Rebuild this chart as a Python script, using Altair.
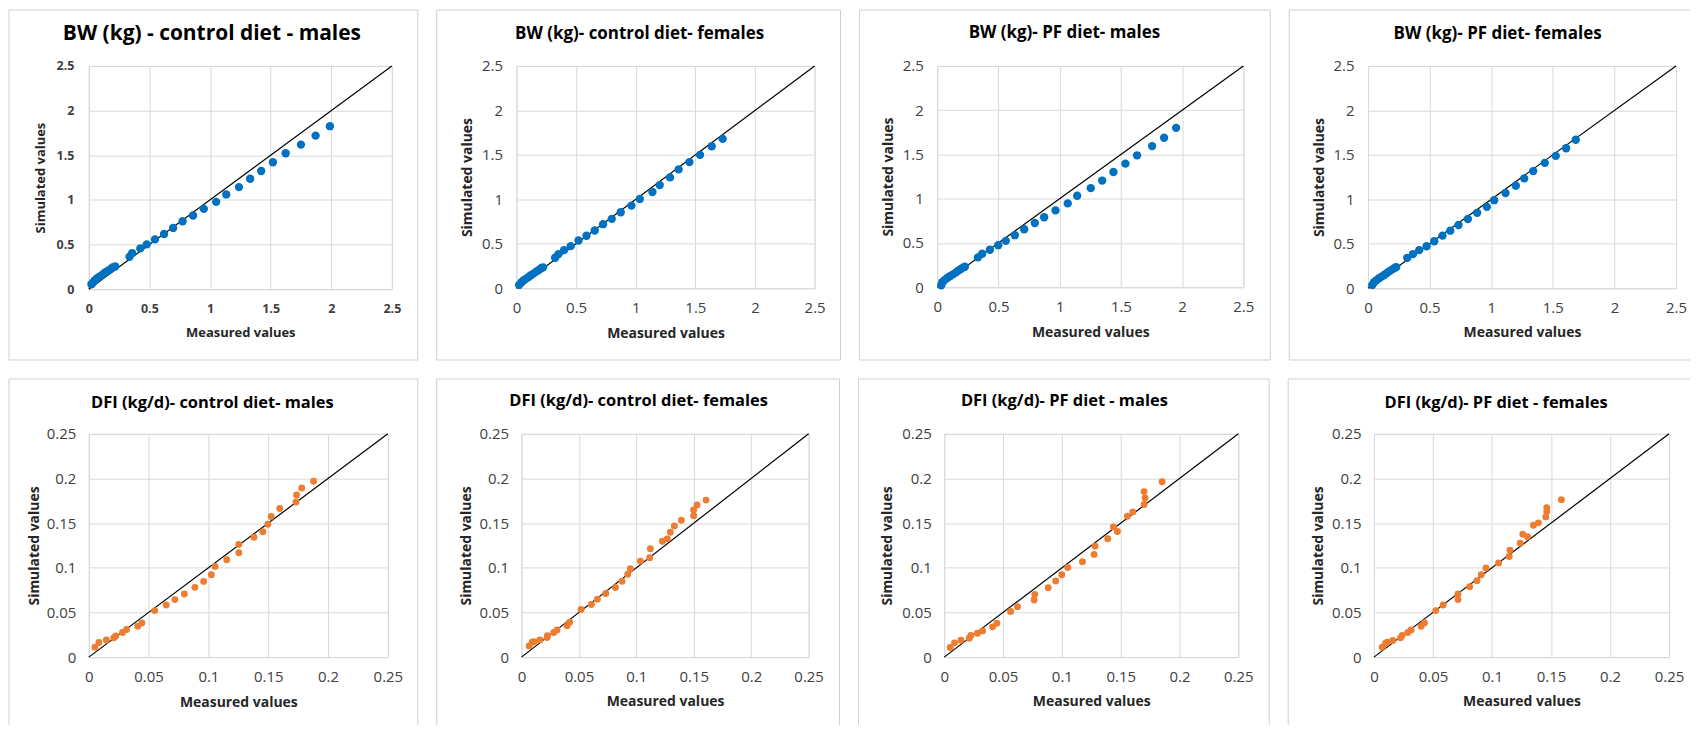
import altair as alt
import pandas as pd

# ---------------- data ----------------
BW_CM_MEAS = [0.022, 0.035, 0.051, 0.070, 0.089, 0.110, 0.132, 0.153, 0.175, 0.196, 0.218,
              0.336, 0.358, 0.425, 0.478, 0.546, 0.621, 0.696, 0.774, 0.860, 0.949, 1.051,
              1.134, 1.239, 1.331, 1.422, 1.519, 1.624, 1.750, 1.871, 1.989]
BW_CM_SIM = [0.056, 0.075, 0.101, 0.124, 0.142, 0.161, 0.184, 0.202, 0.221, 0.244, 0.255,
             0.364, 0.405, 0.457, 0.502, 0.558, 0.618, 0.686, 0.761, 0.825, 0.900, 0.978,
             1.061, 1.143, 1.237, 1.323, 1.421, 1.522, 1.619, 1.720, 1.825]

BW_CF_MEAS = [0.022, 0.042, 0.061, 0.081, 0.101, 0.120, 0.142, 0.165, 0.187, 0.209, 0.223,
              0.324, 0.352, 0.399, 0.455, 0.520, 0.587, 0.656, 0.726, 0.799, 0.874, 0.964,
              1.034, 1.140, 1.201, 1.288, 1.360, 1.450, 1.539, 1.637, 1.729]
BW_CF_SIM = [0.037, 0.067, 0.090, 0.108, 0.127, 0.146, 0.164, 0.187, 0.205, 0.228, 0.235,
             0.343, 0.384, 0.429, 0.474, 0.537, 0.590, 0.649, 0.720, 0.780, 0.854, 0.929,
             1.004, 1.082, 1.160, 1.246, 1.336, 1.418, 1.500, 1.597, 1.679]

BW_PM_MEAS = [0.033, 0.041, 0.060, 0.082, 0.103, 0.125, 0.150, 0.171, 0.193, 0.215, 0.226,
              0.332, 0.367, 0.430, 0.498, 0.560, 0.634, 0.710, 0.797, 0.873, 0.966, 1.066,
              1.143, 1.254, 1.347, 1.439, 1.537, 1.632, 1.755, 1.853, 1.951]
BW_PM_SIM = [0.022, 0.056, 0.082, 0.105, 0.124, 0.142, 0.165, 0.187, 0.206, 0.225, 0.232,
             0.337, 0.378, 0.423, 0.475, 0.524, 0.588, 0.655, 0.726, 0.790, 0.868, 0.947,
             1.033, 1.119, 1.205, 1.302, 1.396, 1.490, 1.594, 1.688, 1.800]

BW_PF_MEAS = [0.035, 0.049, 0.068, 0.089, 0.111, 0.132, 0.154, 0.176, 0.197, 0.219, 0.230,
              0.319, 0.365, 0.416, 0.476, 0.538, 0.605, 0.668, 0.735, 0.811, 0.886, 0.965,
              1.024, 1.116, 1.200, 1.268, 1.341, 1.435, 1.524, 1.608, 1.686]
BW_PF_SIM = [0.037, 0.067, 0.089, 0.112, 0.130, 0.149, 0.171, 0.193, 0.212, 0.231, 0.238,
             0.342, 0.383, 0.428, 0.472, 0.528, 0.592, 0.647, 0.711, 0.778, 0.848, 0.915,
             0.990, 1.071, 1.153, 1.235, 1.317, 1.410, 1.488, 1.574, 1.670]

DFI_CM_MEAS = [0.0051, 0.0085, 0.0147, 0.0209, 0.0226, 0.0282, 0.0316, 0.0410, 0.0444, 0.0551,
               0.0647, 0.0720, 0.0799, 0.0887, 0.0960, 0.1025, 0.1056, 0.1153, 0.1254, 0.1254,
               0.1381, 0.1455, 0.1497, 0.1525, 0.1596, 0.1732, 0.1737, 0.1780, 0.1879]
DFI_CM_SIM = [0.0112, 0.0164, 0.0193, 0.0216, 0.0238, 0.0275, 0.0309, 0.0346, 0.0383, 0.0521,
              0.0584, 0.0644, 0.0707, 0.0781, 0.0848, 0.0923, 0.1016, 0.1090, 0.1168, 0.1261,
              0.1343, 0.1403, 0.1488, 0.1574, 0.1663, 0.1737, 0.1815, 0.1894, 0.1968]

DFI_CF_MEAS = [0.0067, 0.0093, 0.0110, 0.0160, 0.0223, 0.0226, 0.0281, 0.0310, 0.0397, 0.0420,
               0.0519, 0.0609, 0.0661, 0.0734, 0.0818, 0.0876, 0.0925, 0.0948, 0.1035, 0.1116,
               0.1122, 0.1227, 0.1270, 0.1296, 0.1331, 0.1392, 0.1499, 0.1499, 0.1528, 0.1607]
DFI_CF_SIM = [0.0126, 0.0167, 0.0174, 0.0193, 0.0219, 0.0241, 0.0275, 0.0304, 0.0352, 0.0390,
              0.0534, 0.0590, 0.0649, 0.0712, 0.0779, 0.0849, 0.0927, 0.0990, 0.1075, 0.1113,
              0.1213, 0.1298, 0.1324, 0.1398, 0.1469, 0.1532, 0.1584, 0.1647, 0.1703, 0.1758]

DFI_PM_MEAS = [0.0051, 0.0088, 0.0142, 0.0212, 0.0227, 0.0283, 0.0326, 0.0411, 0.0448, 0.0564,
               0.0623, 0.0764, 0.0770, 0.0884, 0.0948, 0.0999, 0.1050, 0.1175, 0.1274, 0.1282,
               0.1390, 0.1438, 0.1472, 0.1557, 0.1603, 0.1699, 0.1707, 0.1699, 0.1852]
DFI_PM_SIM = [0.0108, 0.0160, 0.0190, 0.0212, 0.0242, 0.0268, 0.0294, 0.0339, 0.0380, 0.0510,
              0.0565, 0.0640, 0.0703, 0.0778, 0.0852, 0.0923, 0.1004, 0.1068, 0.1150, 0.1243,
              0.1325, 0.1458, 0.1406, 0.1577, 0.1626, 0.1708, 0.1782, 0.1853, 0.1964]

DFI_PF_MEAS = [0.0070, 0.0099, 0.0113, 0.0160, 0.0225, 0.0239, 0.0287, 0.0315, 0.0400, 0.0428,
               0.0524, 0.0586, 0.0712, 0.0712, 0.0811, 0.0873, 0.0909, 0.0949, 0.1056, 0.1146,
               0.1152, 0.1239, 0.1261, 0.1301, 0.1351, 0.1393, 0.1456, 0.1464, 0.1464, 0.1588]
DFI_PF_SIM = [0.0112, 0.0156, 0.0167, 0.0186, 0.0216, 0.0242, 0.0275, 0.0305, 0.0346, 0.0383,
              0.0521, 0.0584, 0.0644, 0.0707, 0.0789, 0.0856, 0.0923, 0.0997, 0.1053, 0.1127,
              0.1198, 0.1276, 0.1376, 0.1347, 0.1477, 0.1503, 0.1570, 0.1629, 0.1674, 0.1763]

BW_TICKS = [0, 0.5, 1, 1.5, 2, 2.5]
DFI_TICKS = [0, 0.05, 0.1, 0.15, 0.2, 0.25]

TITLES = [
    "BW (kg) - control diet - males",
    "BW (kg)- control diet- females",
    "BW (kg)- PF diet- males",
    "BW (kg)- PF diet- females",
    "DFI (kg/d)- control diet- males",
    "DFI (kg/d)- control diet- females",
    "DFI (kg/d)- PF diet - males",
    "DFI (kg/d)- PF diet - females",
]

# ---------------- styling ----------------
BLUE = "#0070C0"
ORANGE = "#ED7D31"
GRID = "#D9D9D9"
FRAME = "#CFCFCF"
FONT = "Open Sans"
LABEL_COLOR = "#404040"
TITLE_COLOR = "#262626"


def panel(meas, sim, ticks, color, size, title, s):
    maxv = ticks[-1]
    w, h = s["w"], s["h"]
    pts = pd.DataFrame({"m": meas, "s": sim})
    diag = pd.DataFrame({"m": [0, maxv], "s": [0, maxv]})
    one = pd.DataFrame({"k": [0]})

    xscale = alt.Scale(domain=[0, maxv], nice=False, zero=True)
    yscale = alt.Scale(domain=[0, maxv], nice=False, zero=True)
    common = dict(values=ticks, format="~g", grid=True, gridColor=GRID, gridWidth=1,
                  domain=False, ticks=False, tickSize=0, labelFlush=False,
                  labelOverlap=False, labelFont=FONT, labelFontSize=s["lfs"],
                  labelFontWeight=s["lfw"], labelColor=LABEL_COLOR,
                  titleFont=FONT, titleFontSize=s["tfs"], titleFontWeight="bold",
                  titleColor=TITLE_COLOR, titleAlign="center", titleBaseline="middle")
    xaxis = alt.Axis(title="Measured values", labelPadding=s["xlp"],
                     titleX=w / 2, titleY=s["xty"], **common)
    yaxis = alt.Axis(title="Simulated values", labelPadding=s["ylp"],
                     titleX=s["ytx"], titleY=h / 2, titleAngle=-90, **common)
    enc = dict(x=alt.X("m:Q", scale=xscale, axis=xaxis),
               y=alt.Y("s:Q", scale=yscale, axis=yaxis))

    layers = []
    fl, fr, ft, fb = s["frame"]
    sides = s["sides"]
    if "t" in sides:
        layers.append(alt.Chart(one).mark_rule(color=FRAME, strokeWidth=1).encode(
            x=alt.value(fl), x2=alt.value(fr), y=alt.value(ft)))
    if "b" in sides:
        layers.append(alt.Chart(one).mark_rule(color=FRAME, strokeWidth=1).encode(
            x=alt.value(fl), x2=alt.value(fr), y=alt.value(fb)))
    if "l" in sides:
        layers.append(alt.Chart(one).mark_rule(color=FRAME, strokeWidth=1).encode(
            x=alt.value(fl), y=alt.value(ft), y2=alt.value(fb)))
    if "r" in sides:
        layers.append(alt.Chart(one).mark_rule(color=FRAME, strokeWidth=1).encode(
            x=alt.value(fr), y=alt.value(ft), y2=alt.value(fb)))

    layers.append(alt.Chart(diag).mark_line(color="#000000", strokeWidth=1.2).encode(**enc))
    layers.append(alt.Chart(pts).mark_circle(color=color, size=size, opacity=1).encode(**enc))
    layers.append(alt.Chart(one).mark_text(font=FONT, fontSize=s["hfs"], fontWeight="bold",
                                           color="#000000", align="center",
                                           baseline="middle").encode(
        x=alt.value(s["hx"]), y=alt.value(s["hy"]), text=alt.value(title)))
    return alt.layer(*layers).properties(width=w, height=h)


# frame = (left, right, top, bottom) relative to the plot area
SPECS = [
    dict(w=304, h=224, frame=(-80, 330, -56, 295), sides="tblr", hx=123.5, hy=-31.5, hfs=21,
         lfs=12.5, lfw="bold", tfs=13, xlp=13, ylp=15, xty=43.5, ytx=-48),
    dict(w=299, h=223, frame=(-80, 325, -56, 295), sides="tblr", hx=123.5, hy=-31.5, hfs=17,
         lfs=15, lfw="normal", tfs=14, xlp=12, ylp=14, xty=45.5, ytx=-49.5),
    dict(w=307, h=222, frame=(-78, 334, -56, 295), sides="tblr", hx=127.5, hy=-32.5, hfs=17,
         lfs=15, lfw="normal", tfs=14, xlp=12, ylp=14, xty=45.5, ytx=-48.5),
    dict(w=309, h=223, frame=(-79, 323, -56, 295), sides="tbl", hx=130, hy=-31.5, hfs=17,
         lfs=15, lfw="normal", tfs=14, xlp=12, ylp=14, xty=44.5, ytx=-48.5),
    dict(w=300, h=224, frame=(-80, 330, -55, 292), sides="tlr", hx=124, hy=-30.5, hfs=16.5,
         lfs=15, lfw="normal", tfs=14, xlp=12, ylp=13, xty=45.5, ytx=-54),
    dict(w=288, h=224, frame=(-85, 319, -55, 292), sides="tlr", hx=117.5, hy=-32.5, hfs=16.5,
         lfs=15, lfw="normal", tfs=14, xlp=12, ylp=13, xty=44.5, ytx=-55.5),
    dict(w=295, h=224, frame=(-86, 326, -55, 292), sides="tlr", hx=120.5, hy=-32.5, hfs=16.5,
         lfs=15, lfw="normal", tfs=14, xlp=12, ylp=13, xty=44.5, ytx=-56.5),
    dict(w=296, h=224, frame=(-86, 317, -55, 292), sides="tl", hx=122.5, hy=-30.5, hfs=16.5,
         lfs=15, lfw="normal", tfs=14, xlp=12, ylp=13, xty=45, ytx=-55.5),
]

DATASETS = [
    (BW_CM_MEAS, BW_CM_SIM, BW_TICKS, BLUE, 70),
    (BW_CF_MEAS, BW_CF_SIM, BW_TICKS, BLUE, 70),
    (BW_PM_MEAS, BW_PM_SIM, BW_TICKS, BLUE, 70),
    (BW_PF_MEAS, BW_PF_SIM, BW_TICKS, BLUE, 70),
    (DFI_CM_MEAS, DFI_CM_SIM, DFI_TICKS, ORANGE, 48),
    (DFI_CF_MEAS, DFI_CF_SIM, DFI_TICKS, ORANGE, 48),
    (DFI_PM_MEAS, DFI_PM_SIM, DFI_TICKS, ORANGE, 48),
    (DFI_PF_MEAS, DFI_PF_SIM, DFI_TICKS, ORANGE, 48),
]

panels = [panel(m, s, t, c, z, TITLES[i], SPECS[i])
          for i, (m, s, t, c, z) in enumerate(DATASETS)]

row1 = alt.hconcat(*panels[:4], spacing=17)
row2 = alt.hconcat(*panels[4:], spacing=17)

chart = alt.vconcat(row1, row2, spacing=17).properties(
    padding={"left": 0, "top": 0, "right": 0, "bottom": 0}
).configure_view(stroke=None).configure(background="#FFFFFF")

chart.save("out.html", embed_options={"renderer": "svg", "actions": False})
